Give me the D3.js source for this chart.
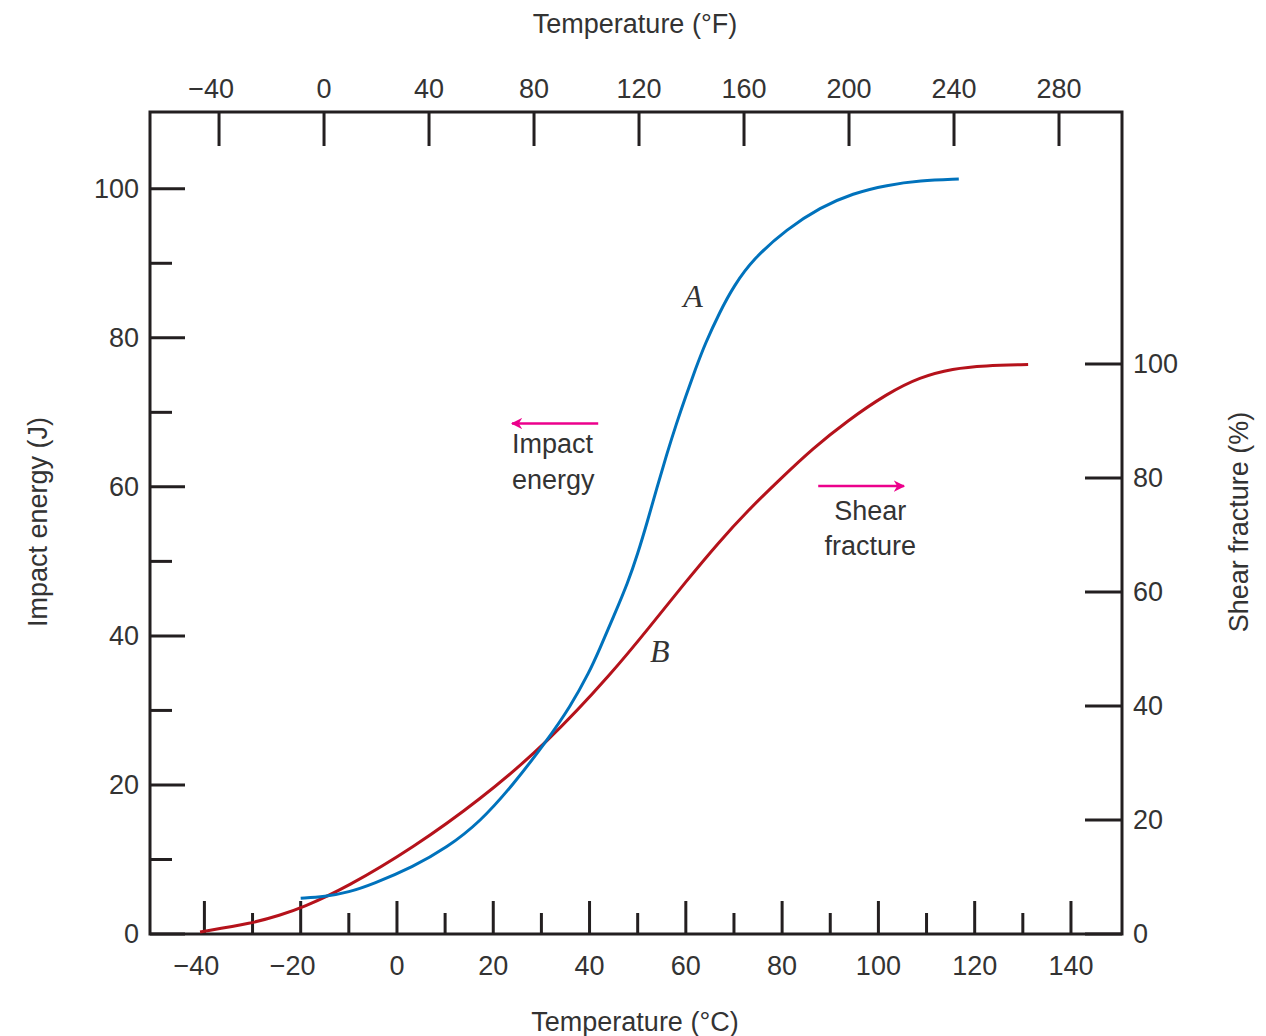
<!DOCTYPE html>
<html>
<head>
<meta charset="utf-8">
<script src="https://cdn.jsdelivr.net/npm/d3@7"></script>
<style>
  body { margin: 0; background: #fff; }
  text { font-family: "Liberation Sans", Arial, sans-serif; fill: #333; }
</style>
</head>
<body>
<svg id="svg" width="1266" height="1036"></svg>
<script>
// curve A: impact energy (J) vs temperature (°C)
const tempA = [-20, -15, -10, -5, 3.3, 10.4, 17.2, 24.1, 31.2, 36, 40, 42, 45, 48, 50, 52, 54, 56, 58, 60, 62, 64, 67, 70, 74, 81, 87.9, 94.7, 101.8, 108.6, 116.7];
const energyA = [4.8, 5.0, 5.6, 6.7, 9.0, 11.6, 15.0, 20.0, 26.0, 30.5, 35.2, 38.1, 42.6, 47.2, 51.0, 55.3, 59.9, 64.3, 68.4, 72.2, 75.8, 79.2, 83.4, 87.0, 90.6, 94.6, 97.5, 99.4, 100.5, 101.1, 101.3];

// curve B: shear fracture (%) vs temperature (°C)
const tempB = [-40.9, -29.9, -24.3, -19.7, -10.4, 3.3, 17.2, 31.2, 44.9, 52.6, 60, 66.7, 73, 79.6, 86.4, 93.5, 101.8, 108.6, 115.5, 122, 131.1];
const shearB = [0.35, 1.9, 3.3, 4.6, 8.2, 15.1, 23.5, 33.5, 46.0, 54.0, 61.8, 68.6, 74.4, 79.8, 85.2, 90.0, 94.8, 97.7, 99.2, 99.7, 99.9];

// tick values
const ticksC = [-40, -20, 0, 20, 40, 60, 80, 100, 120, 140];
const minorC = [-30, -10, 10, 30, 50, 70, 90, 110, 130];
const ticksF = [-40, 0, 40, 80, 120, 160, 200, 240, 280];
const ticksE = [0, 20, 40, 60, 80, 100];
const minorE = [10, 30, 50, 70, 90];
const ticksS = [0, 20, 40, 60, 80, 100];

const plotL = 150, plotR = 1122, plotT = 112, plotB = 934;
const axisColor = "#231f20";

const svg = d3.select("#svg");

const xC = d3.scaleLinear([-51.3, 150.6], [plotL, plotR]);
const xF = d3.scaleLinear([-66.3, 304], [plotL, plotR]);
const yE = d3.scaleLinear([0, 110.3], [plotB, plotT]);
const yS = d3.scaleLinear([0, 144.2], [plotB, plotT]);

const fmt = (d) => (d < 0 ? "\u2212" + Math.abs(d) : "" + d);
// negative labels: keep digits centred on the tick, minus hangs to the left
const negShift = (d) => (d < 0 ? -8 : 0);

// bottom axis (°C)
svg.selectAll(".tc").data(ticksC).join("line")
  .attr("x1", (d) => xC(d)).attr("x2", (d) => xC(d))
  .attr("y1", plotB).attr("y2", plotB - 33)
  .attr("stroke", axisColor).attr("stroke-width", 3);
svg.selectAll(".mc").data(minorC).join("line")
  .attr("x1", (d) => xC(d)).attr("x2", (d) => xC(d))
  .attr("y1", plotB).attr("y2", plotB - 21)
  .attr("stroke", axisColor).attr("stroke-width", 3);
svg.selectAll(".lc").data(ticksC).join("text")
  .attr("x", (d) => xC(d) + negShift(d)).attr("y", 975)
  .attr("text-anchor", "middle").attr("font-size", 27)
  .text(fmt);

// top axis (°F)
svg.selectAll(".tf").data(ticksF).join("line")
  .attr("x1", (d) => xF(d)).attr("x2", (d) => xF(d))
  .attr("y1", plotT).attr("y2", plotT + 34)
  .attr("stroke", axisColor).attr("stroke-width", 3);
svg.selectAll(".lf").data(ticksF).join("text")
  .attr("x", (d) => xF(d) + negShift(d)).attr("y", 98)
  .attr("text-anchor", "middle").attr("font-size", 27)
  .text(fmt);

// left axis (J)
svg.selectAll(".te").data(ticksE).join("line")
  .attr("x1", plotL).attr("x2", plotL + 35)
  .attr("y1", (d) => yE(d)).attr("y2", (d) => yE(d))
  .attr("stroke", axisColor).attr("stroke-width", 3);
svg.selectAll(".me").data(minorE).join("line")
  .attr("x1", plotL).attr("x2", plotL + 22)
  .attr("y1", (d) => yE(d)).attr("y2", (d) => yE(d))
  .attr("stroke", axisColor).attr("stroke-width", 3);
svg.selectAll(".le").data(ticksE).join("text")
  .attr("x", 139).attr("y", (d) => yE(d)).attr("dy", "0.35em")
  .attr("text-anchor", "end").attr("font-size", 27)
  .text(fmt);

// right axis (%)
svg.selectAll(".ts").data(ticksS).join("line")
  .attr("x1", plotR - 37).attr("x2", plotR)
  .attr("y1", (d) => yS(d)).attr("y2", (d) => yS(d))
  .attr("stroke", axisColor).attr("stroke-width", 3);
svg.selectAll(".ls").data(ticksS).join("text")
  .attr("x", 1133).attr("y", (d) => yS(d)).attr("dy", "0.35em")
  .attr("text-anchor", "start").attr("font-size", 27)
  .text(fmt);

// frame
svg.append("rect")
  .attr("x", plotL).attr("y", plotT)
  .attr("width", plotR - plotL).attr("height", plotB - plotT)
  .attr("fill", "none").attr("stroke", axisColor).attr("stroke-width", 3);

// axis titles
svg.append("text").attr("x", 635).attr("y", 33)
  .attr("text-anchor", "middle").attr("font-size", 27).text("Temperature (\u00b0F)");
svg.append("text").attr("x", 635).attr("y", 1031)
  .attr("text-anchor", "middle").attr("font-size", 27).text("Temperature (\u00b0C)");
svg.append("text").attr("transform", "translate(47,522) rotate(-90)")
  .attr("text-anchor", "middle").attr("font-size", 27).text("Impact energy (J)");
svg.append("text").attr("transform", "translate(1248,522) rotate(-90)")
  .attr("text-anchor", "middle").attr("font-size", 27).text("Shear fracture (%)");

// curves
const lineA = d3.line()
  .x((d, i) => xC(tempA[i]))
  .y((d) => yE(d))
  .curve(d3.curveBasis);
const lineB = d3.line()
  .x((d, i) => xC(tempB[i]))
  .y((d) => yS(d))
  .curve(d3.curveBasis);

svg.append("path").datum(shearB)
  .attr("fill", "none").attr("stroke", "#b5121b").attr("stroke-width", 3)
  .attr("d", lineB);
svg.append("path").datum(energyA)
  .attr("fill", "none").attr("stroke", "#0072bc").attr("stroke-width", 3)
  .attr("d", lineA);

// curve labels
svg.append("text").attr("x", xC(61.5)).attr("y", yE(84.2))
  .attr("text-anchor", "middle").attr("font-size", 32)
  .style("font-family", "'Liberation Serif', 'Times New Roman', serif")
  .style("font-style", "italic").text("A");
svg.append("text").attr("x", xC(54.6)).attr("y", yS(47.7))
  .attr("text-anchor", "middle").attr("font-size", 32)
  .style("font-family", "'Liberation Serif', 'Times New Roman', serif")
  .style("font-style", "italic").text("B");

// arrows
const pink = "#ec008c";
const defs = svg.append("defs");
defs.append("marker")
  .attr("id", "head").attr("viewBox", "0 0 10 10")
  .attr("refX", 9).attr("refY", 5)
  .attr("markerWidth", 4.5).attr("markerHeight", 4.5)
  .attr("markerUnits", "strokeWidth")
  .attr("orient", "auto")
  .append("path").attr("d", "M0,0 L10,5 L0,10 L3,5 Z").attr("fill", pink);

svg.append("line")
  .attr("x1", xC(41.8)).attr("x2", xC(23.9))
  .attr("y1", yE(68.5)).attr("y2", yE(68.5))
  .attr("stroke", pink).attr("stroke-width", 2.5)
  .attr("marker-end", "url(#head)");
svg.append("line")
  .attr("x1", xC(87.5)).attr("x2", xC(105.3))
  .attr("y1", yE(60.1)).attr("y2", yE(60.1))
  .attr("stroke", pink).attr("stroke-width", 2.5)
  .attr("marker-end", "url(#head)");

svg.append("text").attr("x", xC(23.9)).attr("y", 453)
  .attr("font-size", 27).text("Impact");
svg.append("text").attr("x", xC(23.9)).attr("y", 489)
  .attr("font-size", 27).text("energy");
svg.append("text").attr("x", xC(98.3)).attr("y", 520)
  .attr("text-anchor", "middle").attr("font-size", 27).text("Shear");
svg.append("text").attr("x", xC(98.3)).attr("y", 555)
  .attr("text-anchor", "middle").attr("font-size", 27).text("fracture");
</script>
</body>
</html>
